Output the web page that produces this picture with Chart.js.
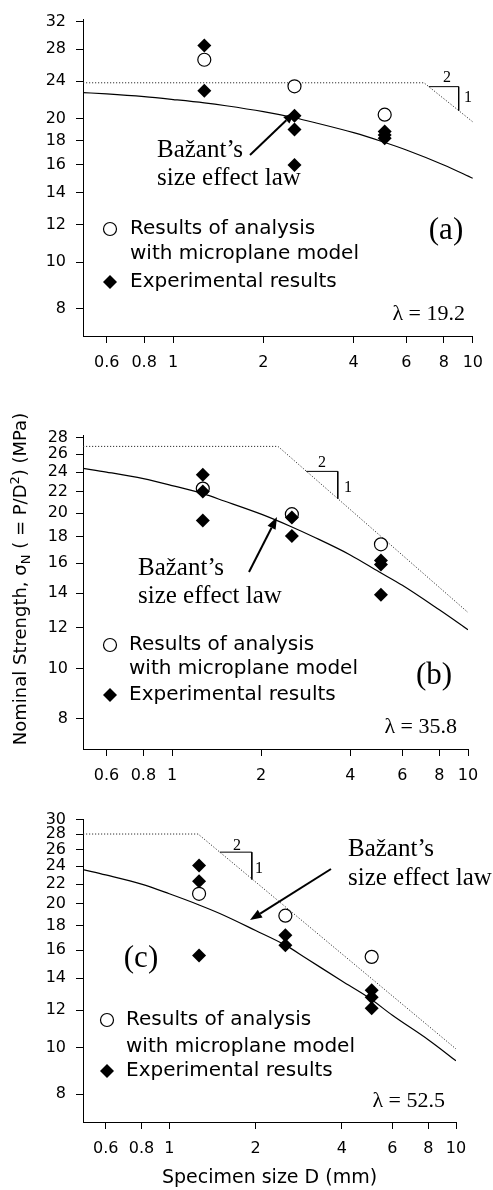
<!DOCTYPE html>
<html>
<head>
<meta charset="utf-8">
<script src="https://cdn.jsdelivr.net/npm/chart.js@4.4.1/dist/chart.umd.min.js"></script>
<style>
html,body{margin:0;padding:0;background:#fff;width:493px;height:1190px;overflow:hidden}
.panel{position:absolute;left:0;width:493px}
canvas{display:block}
</style>
</head>
<body>
<div class="panel" style="top:0;height:385px"><canvas id="ca" width="493" height="385"></canvas></div>
<div class="panel" style="top:385px;height:400px"><canvas id="cb" width="493" height="400"></canvas></div>
<div class="panel" style="top:785px;height:405px"><canvas id="cc" width="493" height="405"></canvas></div>
<script>
// ---------- data ----------
const tickD = [0.6, 0.8, 1, 2, 4, 6, 8, 10];
const ticksA = [8, 10, 12, 14, 16, 18, 20, 24, 28, 32];
const ticksB = [8, 10, 12, 14, 16, 18, 20, 22, 24, 26, 28];
const ticksC = [8, 10, 12, 14, 16, 18, 20, 22, 24, 26, 28, 30];

const sizeD = [1.27, 2.54, 5.08];
const analysisA = [26.6, 23.4, 20.4];
const analysisB = [22.3, 19.9, 17.4];
const analysisC = [21.0, 18.9, 15.5];

const expA_D = [1.27, 1.27, 2.54, 2.54, 2.54, 5.08, 5.08, 5.08];
const expA = [28.5, 22.9, 20.3, 19.0, 16.0, 18.8, 18.5, 18.2];
const expB_D = [1.27, 1.27, 1.27, 2.54, 2.54, 5.08, 5.08, 5.08];
const expB = [23.7, 22.0, 19.35, 19.6, 18.05, 16.2, 15.9, 13.9];
const expC_D = [1.27, 1.27, 1.27, 2.54, 2.54, 5.08, 5.08, 5.08];
const expC = [24.05, 22.3, 15.6, 17.2, 16.4, 13.2, 12.76, 12.1];

const lawD = [0.5, 0.6, 0.8, 1, 1.27, 1.5, 2, 2.54, 3, 4, 5, 6, 8, 10];
const lawA = [22.7, 22.55, 22.25, 21.95, 21.6, 21.3, 20.7, 20.1, 19.6, 18.7, 17.9, 17.2, 16.0, 15.0];
const lawB = [24.4, 24.0, 23.3, 22.6, 21.8, 21.1, 19.9, 18.8, 18.0, 16.6, 15.4, 14.5, 13.0, 11.9];
const lawC = [23.6, 23.0, 22.0, 21.0, 19.9, 19.1, 17.6, 16.4, 15.4, 13.8, 12.7, 11.7, 10.4, 9.4];

const critA_D = [0.5, 6.87, 10];
const critA = [23.8, 23.8, 19.7];
const critB_D = [0.5, 2.28, 10];
const critB = [26.9, 26.9, 12.85];
const critC_D = [0.5, 1.26, 10];
const critC = [28.0, 28.0, 9.95];

const slopeA_D = [7.13, 8.97, 8.97];
const slopeA = [23.36, 23.36, 20.8];
const slopeB_D = [2.84, 3.63, 3.63];
const slopeB = [24.07, 24.07, 21.3];
const slopeC_D = [1.50, 1.94, 1.94];
const slopeC = [25.66, 25.66, 22.5];

const legendLine1 = 'Results of analysis';
const legendLine2 = 'with microplane model';
const legendExp = 'Experimental results';
const lawText1 = 'Bažant’s';
const lawText2 = 'size effect law';
const yTitleParts = ['Nominal Strength, σ', 'N', ' ( = P/D', '2', ') (MPa)'];
const xTitle = 'Specimen size D (mm)';

// ---------- helpers ----------
const SANS = '"DejaVu Sans"';
const SERIF = '"Liberation Serif"';
function pts(xs, ys) { return xs.map((x, i) => ({x: x, y: ys[i]})); }

function drawCircle(ctx, x, y) {
  ctx.beginPath(); ctx.arc(x, y, 6.5, 0, Math.PI * 2);
  ctx.fillStyle = '#fff'; ctx.fill(); ctx.lineWidth = 1.2; ctx.strokeStyle = '#000'; ctx.stroke();
}
function drawDiamond(ctx, x, y) {
  const r = 7;
  ctx.beginPath(); ctx.moveTo(x, y - r); ctx.lineTo(x + r, y); ctx.lineTo(x, y + r); ctx.lineTo(x - r, y); ctx.closePath();
  ctx.fillStyle = '#000'; ctx.fill();
}
function drawArrow(ctx, x1, y1, x2, y2) {
  const ang = Math.atan2(y2 - y1, x2 - x1), L = 12, W = 4.5;
  const bx = x2 - L * Math.cos(ang), by = y2 - L * Math.sin(ang);
  ctx.strokeStyle = '#000'; ctx.lineWidth = 2;
  ctx.beginPath(); ctx.moveTo(x1, y1); ctx.lineTo(bx, by); ctx.stroke();
  ctx.fillStyle = '#000';
  ctx.beginPath(); ctx.moveTo(x2, y2);
  ctx.lineTo(bx + W * Math.sin(ang), by - W * Math.cos(ang));
  ctx.lineTo(bx - W * Math.sin(ang), by + W * Math.cos(ang));
  ctx.closePath(); ctx.fill();
}
function drawYTitle(ctx, cx, cy) {
  const fonts = ['18px ' + SANS, '13px ' + SANS, '18px ' + SANS, '13px ' + SANS, '18px ' + SANS];
  const shifts = [0, 4, 0, -7, 0];
  ctx.save(); ctx.translate(cx, cy); ctx.rotate(-Math.PI / 2);
  ctx.textAlign = 'left'; ctx.textBaseline = 'alphabetic'; ctx.fillStyle = '#000';
  let total = 0;
  yTitleParts.forEach((t, i) => { ctx.font = fonts[i]; total += ctx.measureText(t).width; });
  let x = -total / 2;
  yTitleParts.forEach((t, i) => { ctx.font = fonts[i]; ctx.fillText(t, x, 7 + shifts[i]); x += ctx.measureText(t).width; });
  ctx.restore();
}

function notesPlugin(n) {
  return {
    id: 'notes',
    afterDraw(chart) {
      const ctx = chart.ctx, dy = -n.top;
      ctx.save();
      ctx.fillStyle = '#000';
      n.texts.forEach(t => {
        ctx.font = t.font; ctx.textAlign = t.align || 'left'; ctx.textBaseline = t.baseline || 'alphabetic';
        ctx.fillStyle = '#000';
        ctx.fillText(t.text, t.x, t.y + dy);
      });
      drawArrow(ctx, n.arrow[0], n.arrow[1] + dy, n.arrow[2], n.arrow[3] + dy);
      const L = n.legend;
      drawCircle(ctx, L.mx, L.y1 + dy);
      drawDiamond(ctx, L.mx, L.y3 + dy);
      ctx.fillStyle = '#000'; ctx.font = '20px ' + SANS; ctx.textAlign = 'left'; ctx.textBaseline = 'middle';
      ctx.fillText(legendLine1, L.tx, L.y1 + dy);
      ctx.fillText(legendLine2, L.tx, L.y2 + dy);
      ctx.fillText(legendExp, L.tx, L.y3 + dy);
      if (n.yTitle) drawYTitle(ctx, n.yTitle[0], n.yTitle[1] + dy);
      ctx.restore();
    }
  };
}

function buildChart(id, p) {
  const tickFont = {family: 'DejaVu Sans', size: 16};
  const datasets = [
    {label: legendExp, data: pts(p.expD, p.exp), showLine: false, pointStyle: 'rectRot', pointRadius: 7,
     pointBackgroundColor: '#000', pointBorderColor: '#000', pointBorderWidth: 0, order: 0},
    {label: legendLine1 + ' ' + legendLine2, data: pts(sizeD, p.analysis), showLine: false, pointStyle: 'circle', pointRadius: 6.5,
     pointBackgroundColor: '#fff', pointBorderColor: '#000', pointBorderWidth: 1.2, order: 1},
    {label: lawText1 + ' ' + lawText2, data: pts(lawD, p.law), showLine: true, borderColor: '#000', borderWidth: 1.2,
     pointRadius: 0, fill: false, cubicInterpolationMode: 'monotone', order: 2},
    {label: 'Strength criterion', data: pts(p.critD, p.crit), showLine: true, borderColor: '#333', borderWidth: 1,
     borderDash: [1.2, 1.8], pointRadius: 0, fill: false, order: 3},
    {label: 'Slope 2:1', data: pts(p.slopeD, p.slope), showLine: true, borderColor: '#000', borderWidth: 1,
     pointRadius: 0, fill: false, order: 3}
  ];
  return new Chart(document.getElementById(id), {
    type: 'scatter',
    data: {datasets: datasets},
    options: {
      responsive: false, animation: false, events: [], devicePixelRatio: 1,
      layout: {padding: {left: 0, right: p.padR, top: p.padT, bottom: p.padB}},
      plugins: {legend: {display: false}, tooltip: {enabled: false}},
      scales: {
        x: {
          type: 'logarithmic', min: 0.5, max: 10,
          afterBuildTicks: s => { s.ticks = tickD.map(v => ({value: v})); },
          afterFit: s => { s.height = p.xH; },
          ticks: {autoSkip: false, maxRotation: 0, minRotation: 0, color: '#000', padding: 10, font: tickFont,
                  callback: v => String(v)},
          grid: {drawOnChartArea: false, drawTicks: true, tickLength: 7, tickColor: '#000', tickWidth: 1},
          border: {display: true, color: '#000', width: 1},
          title: p.xTitle ? {display: true, text: xTitle, color: '#000', font: {family: 'DejaVu Sans', size: 19},
                             padding: {top: 0, bottom: 1}} : {display: false}
        },
        y: {
          type: 'logarithmic', min: 7, max: p.yMax,
          afterBuildTicks: s => { s.ticks = p.yTicks.map(v => ({value: v})); },
          afterFit: s => { s.width = 83; },
          ticks: {autoSkip: false, color: '#000', padding: p.yPad, font: tickFont, callback: v => String(v)},
          grid: {drawOnChartArea: false, drawTicks: true, tickLength: 7, tickColor: '#000', tickWidth: 1},
          border: {display: true, color: '#000', width: 1}
        }
      }
    },
    plugins: [notesPlugin(p.notes)]
  });
}

buildChart('ca', {
  analysis: analysisA, expD: expA_D, exp: expA, law: lawA, critD: critA_D, crit: critA,
  slopeD: slopeA_D, slope: slopeA, yTicks: ticksA, yMax: 32.3, yPad: 10,
  padT: 17, padR: 17, padB: 9, xH: 40, xTitle: false,
  notes: {
    top: 0,
    texts: [
      {text: lawText1, x: 157, y: 157, font: '25px ' + SERIF},
      {text: lawText2, x: 157, y: 185, font: '25px ' + SERIF},
      {text: '(a)', x: 446, y: 231, font: '31px ' + SERIF, align: 'center', baseline: 'middle'},
      {text: 'λ = 19.2', x: 465, y: 320, font: '22px ' + SERIF, align: 'right'},
      {text: '2', x: 447, y: 82, font: '16px ' + SERIF, align: 'center'},
      {text: '1', x: 468, y: 102, font: '16px ' + SERIF, align: 'center'}
    ],
    arrow: [250, 155, 295, 112],
    legend: {mx: 110, tx: 130, y1: 229, y2: 254, y3: 282}
  }
});

buildChart('cb', {
  analysis: analysisB, expD: expB_D, exp: expB, law: lawB, critD: critB_D, crit: critB,
  slopeD: slopeB_D, slope: slopeB, yTicks: ticksB, yMax: 28.3, yPad: 8,
  padT: 50, padR: 25, padB: 0, xH: 36, xTitle: false,
  notes: {
    top: 385,
    texts: [
      {text: lawText1, x: 138, y: 575, font: '25px ' + SERIF},
      {text: lawText2, x: 138, y: 603, font: '25px ' + SERIF},
      {text: '(b)', x: 434, y: 676, font: '31px ' + SERIF, align: 'center', baseline: 'middle'},
      {text: 'λ = 35.8', x: 457, y: 733, font: '22px ' + SERIF, align: 'right'},
      {text: '2', x: 322, y: 467, font: '16px ' + SERIF, align: 'center'},
      {text: '1', x: 348, y: 492, font: '16px ' + SERIF, align: 'center'}
    ],
    arrow: [249, 572, 277, 517],
    legend: {mx: 110, tx: 129, y1: 645, y2: 669, y3: 695},
    yTitle: [19, 579]
  }
});

buildChart('cc', {
  analysis: analysisC, expD: expC_D, exp: expC, law: lawC, critD: critC_D, crit: critC,
  slopeD: slopeC_D, slope: slopeC, yTicks: ticksC, yMax: 30.1, yPad: 10,
  padT: 34, padR: 37, padB: 0, xH: 68, xTitle: true,
  notes: {
    top: 785,
    texts: [
      {text: lawText1, x: 348, y: 856, font: '25px ' + SERIF},
      {text: lawText2, x: 348, y: 885, font: '25px ' + SERIF},
      {text: '(c)', x: 141, y: 959, font: '31px ' + SERIF, align: 'center', baseline: 'middle'},
      {text: 'λ = 52.5', x: 445, y: 1107, font: '22px ' + SERIF, align: 'right'},
      {text: '2', x: 237, y: 850, font: '16px ' + SERIF, align: 'center'},
      {text: '1', x: 259, y: 873, font: '16px ' + SERIF, align: 'center'}
    ],
    arrow: [331, 869, 250, 920],
    legend: {mx: 107, tx: 126, y1: 1020, y2: 1047, y3: 1071}
  }
});
</script>
</body>
</html>
